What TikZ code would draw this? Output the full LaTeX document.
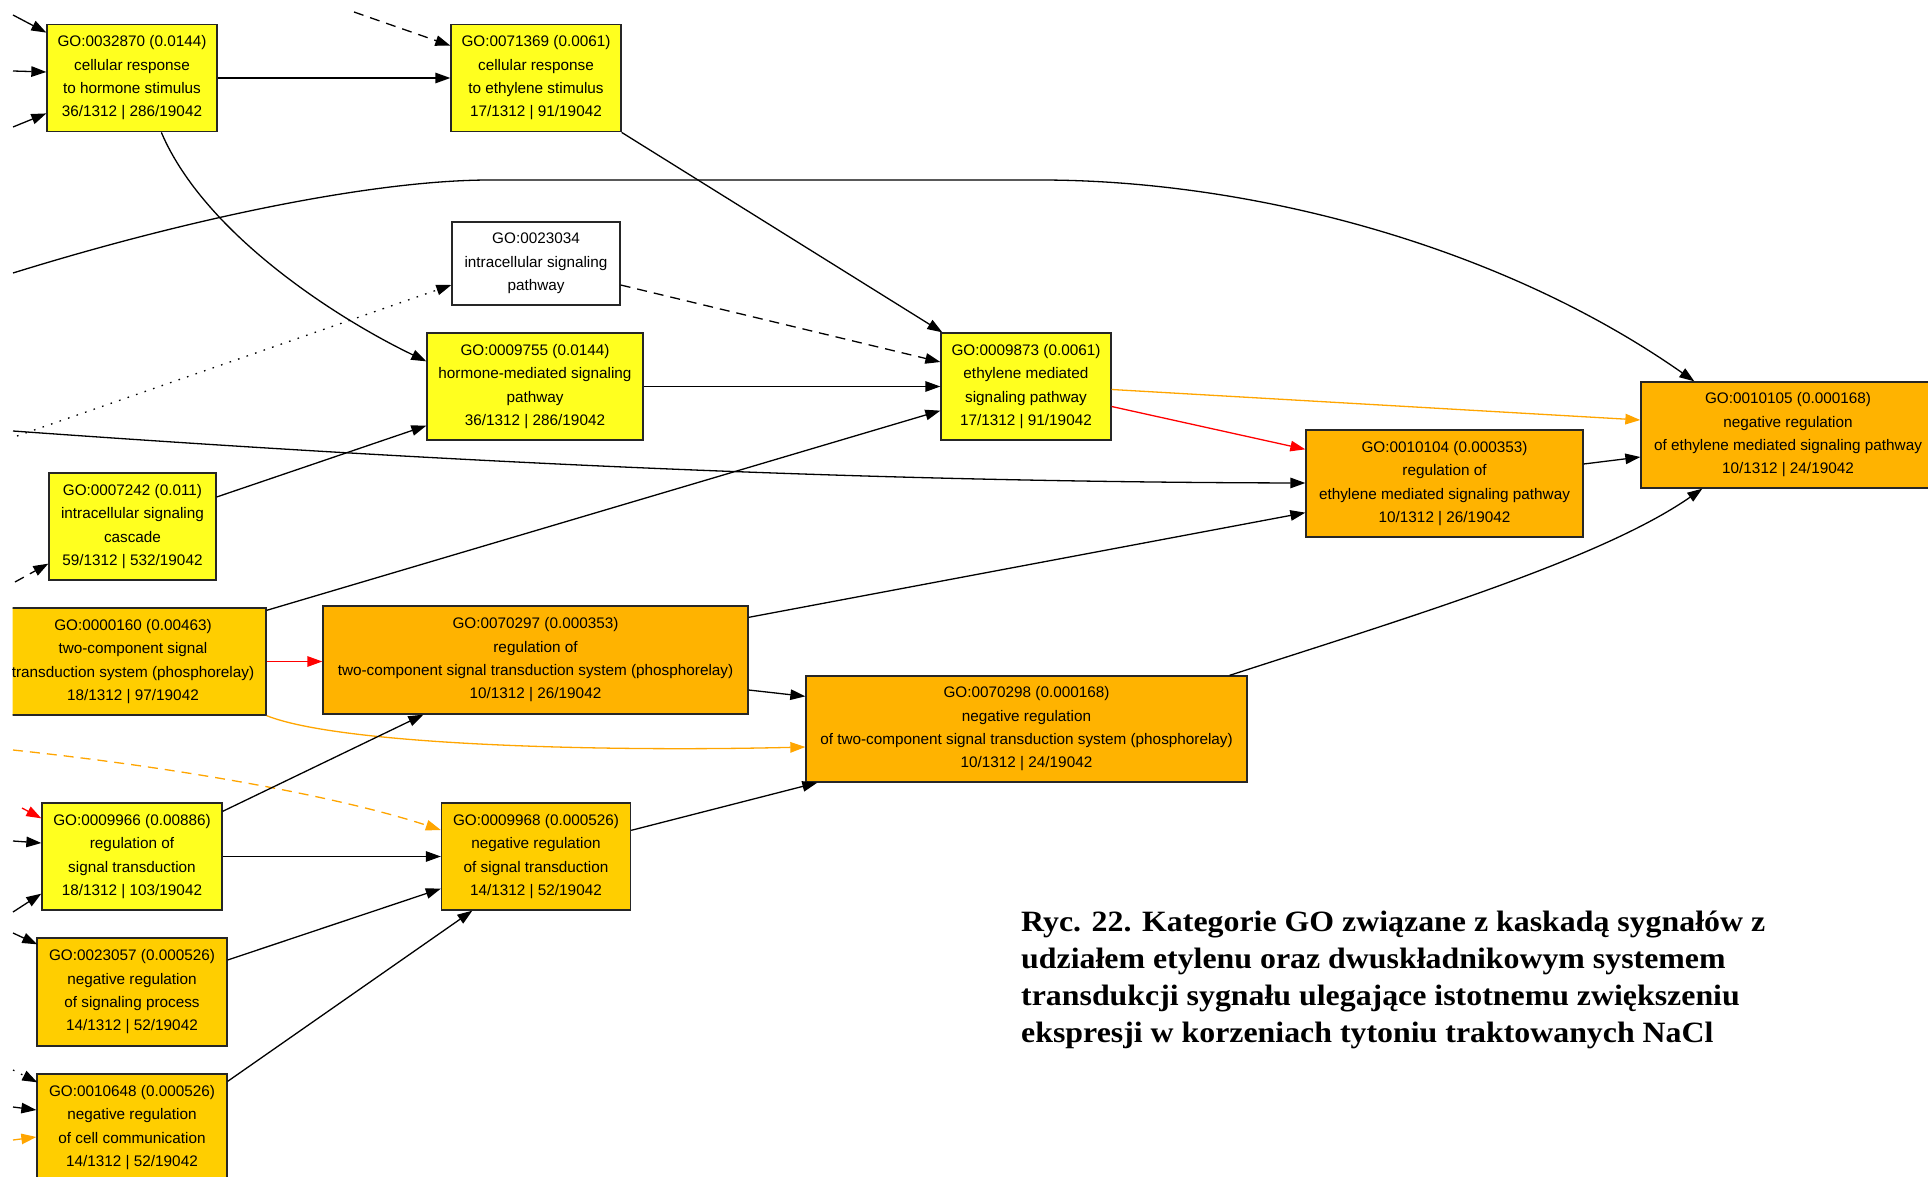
\documentclass[tikz,border=0pt]{standalone}
\usepackage{fontspec}
\setmainfont{Liberation Sans}
\newfontfamily\capfont[FakeStretch=1.08]{Liberation Serif}
\usetikzlibrary{arrows.meta,calc}

\definecolor{goYellow}{HTML}{FFFF1F}
\definecolor{goGold}{HTML}{FFCE00}
\definecolor{goOrange}{HTML}{FFB300}
\definecolor{edgeOrange}{HTML}{FFA500}
\definecolor{edgeRed}{HTML}{FF0000}
\definecolor{boxLine}{HTML}{262626}

\begin{document}
\begin{tikzpicture}[x=1pt,y=-1pt,
  gobox/.style={draw=boxLine, line width=1.3pt, rectangle, inner sep=0pt,
    align=center, font=\fontsize{15.3}{23.3}\selectfont},
  rel/.style={line width=1.3pt, -{Triangle[length=15pt,width=10.5pt]}},
  relorange/.style={rel, draw=edgeOrange, -{Triangle[length=15pt,width=10.5pt,fill=edgeOrange]}},
  relred/.style={rel, draw=edgeRed, -{Triangle[length=15pt,width=10.5pt,fill=edgeRed]}},
  dashrel/.style={dash pattern=on 10pt off 7pt},
  dotrel/.style={dash pattern=on 1.6pt off 7.4pt},
  capline/.style={anchor=base west, inner sep=0pt,
    font=\capfont\bfseries\fontsize{29.5}{37}\selectfont}]

\useasboundingbox (0,0) rectangle (1928,1177);

\begin{scope}
\clip (12.5,10) rectangle (1928,1177);

% ---- GO term boxes ----
\node[gobox, fill=goYellow, minimum width=170pt, minimum height=107.5pt] (A) at (132,78)
  {GO:0032870 (0.0144)\\cellular response\\to hormone stimulus\\36/1312 | 286/19042};
\node[gobox, fill=goYellow, minimum width=170pt, minimum height=107.5pt] (B) at (536,78)
  {GO:0071369 (0.0061)\\cellular response\\to ethylene stimulus\\17/1312 | 91/19042};
\node[gobox, fill=white, minimum width=168pt, minimum height=83pt] (C) at (536,263.5)
  {GO:0023034\\intracellular signaling\\pathway};
\node[gobox, fill=goYellow, minimum width=216pt, minimum height=107pt] (D) at (535,386.5)
  {GO:0009755 (0.0144)\\hormone-mediated signaling\\pathway\\36/1312 | 286/19042};
\node[gobox, fill=goYellow, minimum width=170pt, minimum height=107pt] (E) at (1026,386.5)
  {GO:0009873 (0.0061)\\ethylene mediated\\signaling pathway\\17/1312 | 91/19042};
\node[gobox, fill=goOrange, minimum width=277pt, minimum height=107pt] (F) at (1444.5,483.5)
  {GO:0010104 (0.000353)\\regulation of\\ethylene mediated signaling pathway\\10/1312 | 26/19042};
\node[gobox, fill=goOrange, minimum width=294pt, minimum height=106pt] (G) at (1788,435)
  {GO:0010105 (0.000168)\\negative regulation\\of ethylene mediated signaling pathway\\10/1312 | 24/19042};
\node[gobox, fill=goYellow, minimum width=167pt, minimum height=107pt] (H) at (132.5,526.5)
  {GO:0007242 (0.011)\\intracellular signaling\\cascade\\59/1312 | 532/19042};
\node[gobox, fill=goGold, minimum width=266pt, minimum height=107pt] (I) at (133,661.5)
  {GO:0000160 (0.00463)\\two-component signal\\transduction system (phosphorelay)\\18/1312 | 97/19042};
\node[gobox, fill=goOrange, minimum width=425pt, minimum height=108pt] (J) at (535.5,660)
  {GO:0070297 (0.000353)\\regulation of\\two-component signal transduction system (phosphorelay)\\10/1312 | 26/19042};
\node[gobox, fill=goOrange, minimum width=441pt, minimum height=106pt] (K) at (1026.5,729)
  {GO:0070298 (0.000168)\\negative regulation\\of two-component signal transduction system (phosphorelay)\\10/1312 | 24/19042};
\node[gobox, fill=goYellow, minimum width=180pt, minimum height=107pt] (L) at (132,856.5)
  {GO:0009966 (0.00886)\\regulation of\\signal transduction\\18/1312 | 103/19042};
\node[gobox, fill=goGold, minimum width=189pt, minimum height=107pt] (M) at (536,856.5)
  {GO:0009968 (0.000526)\\negative regulation\\of signal transduction\\14/1312 | 52/19042};
\node[gobox, fill=goGold, minimum width=190pt, minimum height=108pt] (N) at (132,992)
  {GO:0023057 (0.000526)\\negative regulation\\of signaling process\\14/1312 | 52/19042};
\node[gobox, fill=goGold, minimum width=190pt, minimum height=107pt] (O) at (132,1127.5)
  {GO:0010648 (0.000526)\\negative regulation\\of cell communication\\14/1312 | 52/19042};

% ---- loose ends of relations coming from terms further left / above ----
\coordinate (a1) at (13,15);
\coordinate (a2) at (13,71);
\coordinate (a3) at (13,127);
\coordinate (b1) at (354,12);
\coordinate (g1) at (13,273);
\coordinate (c1) at (17,436);
\coordinate (f1) at (13,431);
\coordinate (h1) at (15,582);
\coordinate (m1) at (13,750);
\coordinate (l1) at (22,808);
\coordinate (l2) at (13,841);
\coordinate (l3) at (13,912);
\coordinate (n1) at (13,933);
\coordinate (o1) at (13,1070);
\coordinate (o2) at (13,1107);
\coordinate (o3) at (13,1140);

% ---- relations ----
\draw[rel] (a1) -- ($(A.north west)+(0,9)$);
\draw[rel] (a2) -- ($(A.west)+(0,-6)$);
\draw[rel] (a3) -- ($(A.south west)+(0,-19)$);
\draw[rel] (A.east) -- (B.west);
\draw[rel, dashrel] (b1) -- ($(B.north west)+(0,22)$);
\draw[rel] ($(A.south west)+(115,0)$) .. controls (205,235) and (340,320) .. ($(D.north west)+(0,29)$);
\draw[rel] (B.south east) -- ($(E.north west)+(2,0)$);
\draw[rel] (g1) .. controls (200,215) and (380,180) .. (490,180) -- (1040,180)
  .. controls (1250,180) and (1500,245) .. ($(G.north west)+(54,0)$);
\draw[rel, dotrel] (c1) -- ($(C.west)+(0,21.5)$);
\draw[rel, dashrel] ($(C.east)+(0,21.5)$) -- ($(E.west)+(0,-24.5)$);
\draw[rel] (D.east) -- (E.west);
\draw[rel] (f1) .. controls (500,466) and (900,482) .. ($(F.west)+(0,-0.5)$);
\draw[rel] ($(H.east)+(0,-29.5)$) -- ($(D.south west)+(0,-15)$);
\draw[rel, dashrel] (h1) -- ($(H.south west)+(0,-17)$);
\draw[rel] ($(I.north east)+(0,3)$) -- ($(E.south west)+(0,-30)$);
\draw[relorange] ($(E.east)+(0,3)$) -- ($(G.west)+(0,-15)$);
\draw[relred] ($(E.east)+(0,20)$) -- ($(F.north west)+(0,20)$);
\draw[rel] ($(F.east)+(0,-19.5)$) -- ($(G.west)+(0,22)$);
\draw[rel] ($(J.north east)+(0,12)$) -- ($(F.south west)+(0,-25)$);
\draw[relred] (I.east) -- (I.east -| J.west);
\draw[relorange] (I.south east) .. controls (340,745) and (600,752) .. ($(K.west)+(0,18)$);
\draw[rel] ($(J.east)+(0,30)$) -- ($(K.north west)+(0,21)$);
\draw[rel] ($(K.north east)+(-18,0)$) .. controls (1400,620) and (1600,560) .. ($(G.south west)+(62,0)$);
\draw[relorange, dashrel] (m1) .. controls (200,770) and (350,800) .. ($(M.west)+(0,-26.5)$);
\draw[rel] ($(L.north east)+(0,9)$) -- ($(J.south west)+(101,0)$);
\draw[relred] (l1) -- ($(L.north west)+(0,16)$);
\draw[rel] (l2) -- ($(L.west)+(0,-13.5)$);
\draw[rel] (l3) -- ($(L.south west)+(0,-17)$);
\draw[rel] (L.east) -- (M.west);
\draw[rel] ($(M.north east)+(0,28)$) -- ($(K.south west)+(12,0)$);
\draw[rel] (n1) -- ($(N.north west)+(1,7)$);
\draw[rel] ($(N.east)+(0,-32)$) -- ($(M.south west)+(0,-22)$);
\draw[rel] ($(O.north east)+(0,8)$) -- ($(M.south west)+(31.5,0)$);
\draw[rel, dotrel] (o1) -- ($(O.north west)+(1,9)$);
\draw[rel] (o2) -- ($(O.west)+(0,-17.5)$);
\draw[relorange] (o3) -- ($(O.west)+(0,9.5)$);
\end{scope}

% ---- figure caption ----
\node[capline] (cap1) at (1021,931) {Ryc. 22. Kategorie GO związane z kaskadą sygnałów z};
\node[capline] (cap2) at (1021,968) {udziałem etylenu oraz dwuskładnikowym systemem};
\node[capline] (cap3) at (1021,1005) {transdukcji sygnału ulegające istotnemu zwiększeniu};
\node[capline] (cap4) at (1021,1042) {ekspresji w korzeniach tytoniu traktowanych NaCl};
\end{tikzpicture}
\end{document}
